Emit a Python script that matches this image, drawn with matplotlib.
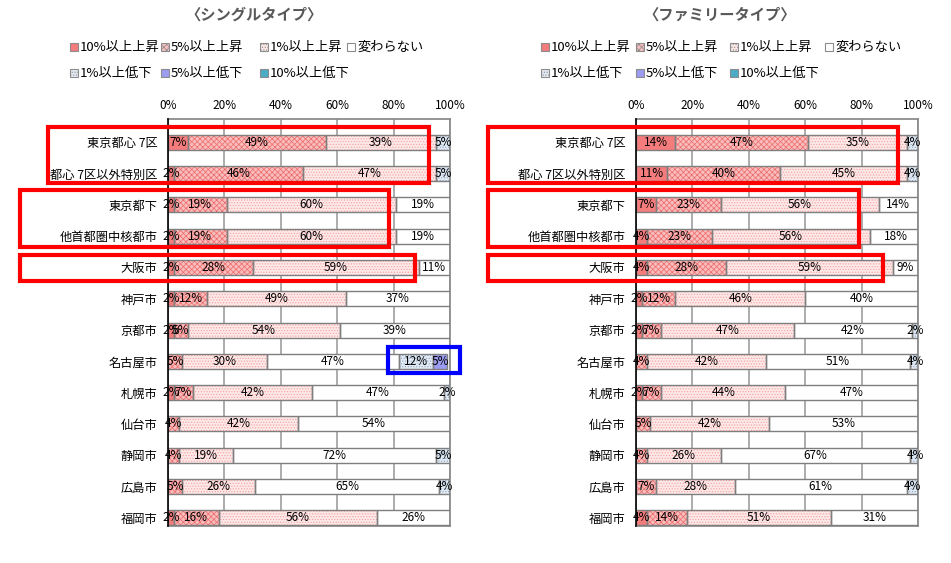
import numpy as np
import matplotlib.pyplot as plt
from matplotlib.patches import Rectangle

plt.rcParams['font.family'] = ['Noto Sans CJK JP', 'DejaVu Sans']
plt.rcParams['hatch.linewidth'] = 0.5

# rows, top to bottom
categories = ['東京都心 7区', '都心 7区以外特別区', '東京都下', '他首都圏中核都市', '大阪市',
              '神戸市', '京都市', '名古屋市', '札幌市', '仙台市', '静岡市', '広島市', '福岡市']
legend_labels = ['10%以上上昇', '5%以上上昇', '1%以上上昇', '変わらない',
                 '1%以上低下', '5%以上低下', '10%以上低下']

# シングルタイプ (%)
single_up10 = [7, 2, 2, 2, 2, 2, 2, 0, 2, 0, 0, 0, 2]
single_up5 = [49, 46, 19, 19, 28, 12, 5, 5, 7, 4, 4, 5, 16]
single_up1 = [39, 47, 60, 60, 59, 49, 54, 30, 42, 42, 19, 26, 56]
single_same = [0, 0, 19, 19, 11, 37, 39, 47, 47, 54, 72, 65, 26]
single_down1 = [5, 5, 0, 0, 0, 0, 0, 12, 2, 0, 5, 4, 0]
single_down5 = [0, 0, 0, 0, 0, 0, 0, 5, 0, 0, 0, 0, 0]
single_down10 = [0, 0, 0, 0, 0, 0, 0, 0, 0, 0, 0, 0, 0]

# ファミリータイプ (%)
family_up10 = [14, 11, 7, 4, 4, 2, 2, 0, 2, 0, 0, 0, 4]
family_up5 = [47, 40, 23, 23, 28, 12, 7, 4, 7, 5, 4, 7, 14]
family_up1 = [35, 45, 56, 56, 59, 46, 47, 42, 44, 42, 26, 28, 51]
family_same = [0, 0, 14, 18, 9, 40, 42, 51, 47, 53, 67, 61, 31]
family_down1 = [4, 4, 0, 0, 0, 0, 2, 4, 0, 0, 4, 4, 0]
family_down5 = [0, 0, 0, 0, 0, 0, 0, 0, 0, 0, 0, 0, 0]
family_down10 = [0, 0, 0, 0, 0, 0, 0, 0, 0, 0, 0, 0, 0]

xticks = [0, 20, 40, 60, 80, 100]

# styles per segment
seg_fill = ['#F47C7C', '#F9BDBD', '#FDE8E8', '#FFFFFF', '#E2EAF3', '#9C9CF2', '#4BACC6']
seg_hatch = [None, 'xxxxxx', '......', None, '......', None, None]
seg_hcol = ['#F47C7C', '#EC6A6A', '#F4A0A0', '#FFFFFF', '#90A8C8', '#9C9CF2', '#4BACC6']

W, H = 951, 563
fig = plt.figure(figsize=(W / 100, H / 100), dpi=100)


def draw_panel(x0, title, title_x, series, boxes):
    ax = fig.add_axes([x0 / W, 1 - 526 / H, 282 / W, 407 / H])
    y = np.arange(len(categories))
    left = np.zeros(len(categories))
    for k, vals in enumerate(series):
        vals = np.array(vals, dtype=float)
        m = vals > 0
        ax.barh(y[m], vals[m], left=left[m], height=0.48, color=seg_fill[k],
                hatch=seg_hatch[k], edgecolor=seg_hcol[k], linewidth=0, zorder=2)
        ax.barh(y[m], vals[m], left=left[m], height=0.48, fill=False,
                edgecolor='#7F7F7F', linewidth=1.0, zorder=3)
        for yi, l, v in zip(y[m], left[m], vals[m]):
            ax.text(l + v / 2, yi, f'{int(v)}%', ha='center', va='center',
                    fontsize=8.5, zorder=4)
        left += vals
    ax.set_xlim(0, 100)
    ax.set_ylim(len(categories) - 0.74, -0.74)
    ax.xaxis.tick_top()
    ax.set_xticks(xticks, [f'{t}%' for t in xticks], fontsize=8.5)
    ax.set_yticks(y, categories, fontsize=8.8)
    ax.tick_params(length=0)
    ax.tick_params(axis='x', pad=5)
    ax.tick_params(axis='y', pad=7.5)
    ax.grid(axis='x', color='#A6A6A6', linewidth=1.3, zorder=0)
    ax.set_axisbelow(True)
    for s in ['top', 'right', 'bottom']:
        ax.spines[s].set_color('#8C8C8C')
        ax.spines[s].set_linewidth(1.3)
    ax.spines['left'].set_color('black')
    ax.spines['left'].set_linewidth(1.2)
    ax.spines['left'].set_zorder(5)

    for (bx0, bx1, by0, by1, col) in boxes:
        ax.add_patch(Rectangle((bx0, by0), bx1 - bx0, by1 - by0, fill=False,
                               edgecolor=col, linewidth=3, clip_on=False, zorder=6))

    fig.text(title_x / W, 1 - 15 / H, title, ha='center', va='center', fontsize=11,
             fontweight='bold', color='#595959')
    return ax


def draw_legend(xs, ys):
    for k, lab in enumerate(legend_labels):
        px, py = xs[k], ys[k]
        fig.add_artist(Rectangle(((px - 4) / W, 1 - (py + 4) / H), 8 / W, 8 / H,
                                 facecolor=seg_fill[k], hatch=seg_hatch[k],
                                 edgecolor='#8C8C8C', linewidth=0.8,
                                 transform=fig.transFigure))
        fig.text((px + 6) / W, 1 - py / H, lab, ha='left', va='center', fontsize=9.5)


single = [single_up10, single_up5, single_up1, single_same,
          single_down1, single_down5, single_down10]
family = [family_up10, family_up5, family_up1, family_same,
          family_down1, family_down5, family_down10]

red = '#FF0000'
draw_panel(168, '〈シングルタイプ〉', 254, single,
           [(-42.6, 92.6, -0.48, 1.31, red), (-52.5, 78.4, 1.53, 3.35, red),
            (-52.5, 87.6, 3.61, 4.44, red), (78.0, 103.5, 6.54, 7.37, '#0000FF')])
draw_panel(636, '〈ファミリータイプ〉', 720, family,
           [(-52.5, 93.0, -0.48, 1.31, red), (-52.5, 79.2, 1.53, 3.35, red),
            (-52.5, 87.7, 3.61, 4.44, red)])

draw_legend([74, 165, 264, 351, 74, 165, 264], [47, 47, 47, 47, 73, 73, 73])
draw_legend([545, 640, 734, 829, 545, 640, 734], [47, 47, 47, 47, 73, 73, 73])

fig.savefig('out.png', dpi=100)
